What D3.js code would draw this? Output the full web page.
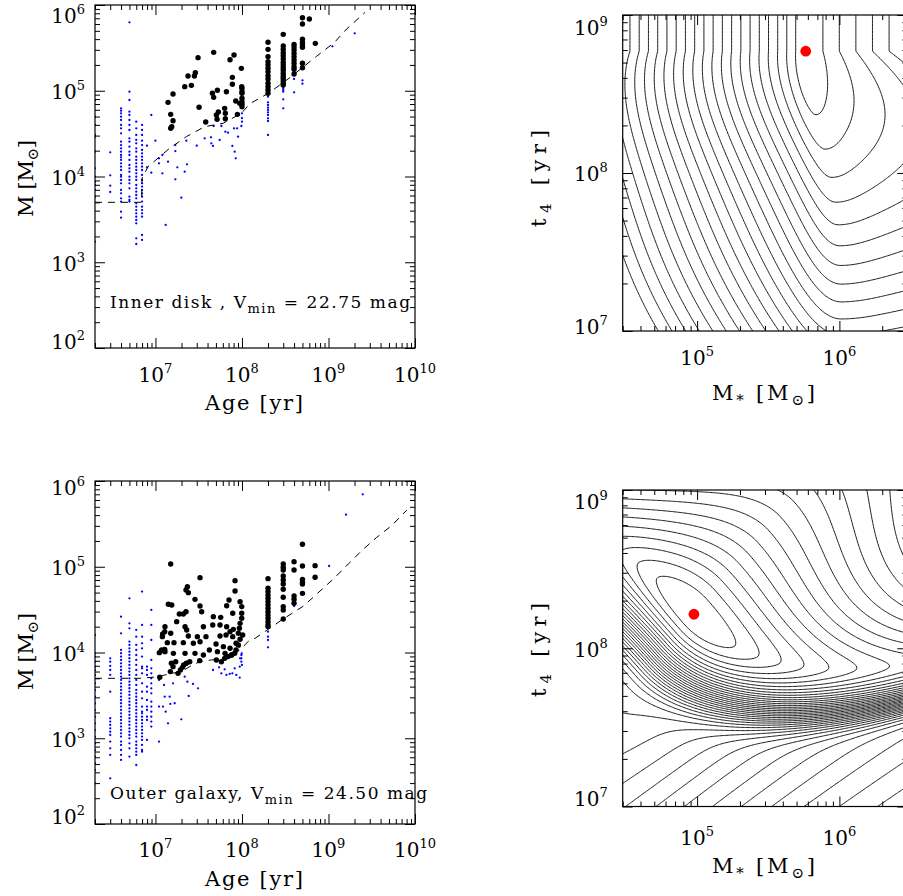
<!DOCTYPE html>
<html><head><meta charset="utf-8">
<script src="https://cdn.jsdelivr.net/npm/d3@7"></script>
<style>
body{margin:0;background:#fff}
svg text{font-family:"DejaVu Serif",serif;fill:#000}
</style>
</head><body>
<svg id="c" width="903" height="896"></svg>
<script>
// ================= DATA (log10 values) =================
const innerBlueAges = [6.301, 6.477, 6.602, 6.699, 6.778, 6.845, 8.301, 8.477, 8.602, 8.699];
const innerBlueCols = [
  [4.89, 4.698, 4.601, 4.484, 4.465, 4.29, 4.095, 3.998, 3.94, 3.901, 3.843, 3.765, 3.24],
  [4.282, 4.014, 3.893, 3.819],
  [4.795,4.768,4.737,4.698,4.659,4.601,4.562,4.503,4.406,4.367,4.328,4.29,4.251,4.224,4.193,4.154,4.115,4.076,4.018,3.998,3.959,3.92,3.843,3.804,3.745,3.707,3.59,3.52],
  [5.798,4.989,4.892,4.756,4.717,4.659,4.601,4.542,4.445,4.406,4.348,4.29,4.251,4.193,4.134,4.095,4.056,3.998,3.959,3.92,3.862,3.765,3.726,3.707],
  [4.639,4.562,4.484,4.426,4.387,4.328,4.29,4.231,4.193,4.154,4.115,4.076,4.037,3.998,3.959,3.901,3.862,3.823,3.784,3.745,3.687,3.648,3.609,3.57,3.532,3.493,3.454,3.279,3.213],
  [4.601,4.542,4.484,4.418,4.367,4.309,4.27,4.231,4.193,4.154,4.115,4.076,4.018,3.959,3.92,3.882,3.843,3.804,3.765,3.707,3.648,3.609,3.57,3.532,3.318,3.26],
  [4.931,4.865,4.834,4.803,4.776,4.748,4.717,4.678,4.647,4.484],
  [5.048,5.028,5.009,4.989,4.9,4.795],
  [5.137,4.982],
  [5.122,5.083]
];
const innerBlueScatter = [
  [6.902,4.36],[6.902,4.107],[6.952,4.717],[6.952,4.045],[6.999,4.418],[7.041,4.212],[7.041,4.154],
  [7.08,4.251],[7.08,4.037],[7.118,3.435],[7.145,4.173],[7.23,4.367],[7.23,4.297],[7.23,3.967],
  [7.253,4.107],[7.299,3.753],[7.338,4.056],[7.357,4.418],[7.365,4.142],[7.477,4.36],[7.569,4.445],
  [7.642,4.457],[7.646,4.387],[7.665,4.356],[7.673,4.589],[7.742,4.426],[7.762,4.589],[7.808,4.523],
  [7.839,4.511],[7.889,4.356],[7.908,4.562],[7.916,4.29],[7.928,4.212],[7.943,4.562],[7.955,4.465],
  [7.993,4.589],[8.0,4.639],[8.0,4.737],[8.0,4.68],[9.045,5.518],[9.303,5.67]
];
const innerBlack = [
  [7.145,4.865],[7.176,4.725],[7.203,4.962],[7.203,4.651],[7.188,4.581],[7.176,4.562],[7.338,5.048],
  [7.376,5.172],[7.415,5.063],[7.45,5.172],[7.461,5.211],[7.492,5.386],[7.504,4.807],[7.581,4.636],
  [7.673,5.448],[7.658,4.97],[7.673,4.923],[7.716,5.005],[7.704,4.717],[7.727,4.752],[7.712,4.667],
  [7.8,4.795],[7.808,4.737],[7.808,4.674],[7.82,4.989],[7.862,5.362],[7.889,5.156],[7.889,5.075],
  [7.908,5.417],[7.928,4.88],[7.947,4.725],[7.993,5.261],[7.997,5.048],[8.0,4.989],[8.0,4.873],
  [8.0,4.842],[8.0,4.814],[7.974,4.853],[8.0,5.028],[8.0,4.97],[8.0,4.912],
  [8.779,5.837],[8.848,5.553]
];
const innerBlackAges = [8.301, 8.477, 8.602, 8.699];
const innerBlackCols = [
  [5.565,5.483,5.398,5.339,5.3,5.261,5.223,5.176,5.137,5.087,5.048,5.009,4.97],
  [5.658,5.522,5.483,5.444,5.409,5.37,5.331,5.3,5.269,5.238,5.203,5.172,5.145,5.114,5.083,5.067],
  [5.541,5.51,5.475,5.436,5.398,5.359,5.32,5.281,5.25,5.195],
  [5.852,5.778,5.6,5.561,5.534,5.506,5.32,5.269]
];
const innerLimit = [
  [6.301,3.699],[6.84,3.699],[6.845,3.98],[6.914,4.115],[7.164,4.329],[7.357,4.465],[7.569,4.581],
  [7.781,4.62],[7.993,4.737],[8.093,4.85],[8.305,4.97],[8.55,5.15],[8.86,5.40],[9.07,5.565],
  [9.21,5.72],[9.423,5.914]
];

const outerBlueAges = [6.301, 6.477, 6.602, 6.699, 6.778, 6.845, 6.902, 6.952, 7.041, 8.301];
const outerBlueCols = [
  [4.204,3.99,3.951,3.893,3.834,3.795,3.737,3.64,3.562,3.484,3.406,3.329,3.251,3.173,3.095,3.017,2.94,2.862,2.784,2.706,2.628,2.473],
  [3.932,3.893,3.843,3.796,3.738,3.543,3.233,3.194,3.155,3.116,3.077,3.038,2.961,2.883,2.805,2.533],
  [4.418,4.224,4.03,3.991,3.952,3.913,3.874,3.835,3.796,3.757,3.718,3.68,3.641,3.602,3.563,3.524,3.485,3.446,3.408,3.369,3.33,3.291,3.252,3.213,3.174,3.136,3.097,3.058,3.019,2.961,2.922,2.863,2.805,2.747],
  [4.632,4.34,4.282,4.127,4.088,4.049,4.01,3.972,3.933,3.894,3.855,3.816,3.777,3.738,3.699,3.66,3.621,3.583,3.544,3.505,3.466,3.427,3.388,3.349,3.311,3.272,3.233,3.194,3.155,3.116,3.077,3.038,2.999,2.941,2.883,2.786],
  [4.263,4.185,4.088,4.03,3.971,3.913,3.855,3.796,3.738,3.68,3.621,3.563,3.524,3.485,3.446,3.408,3.369,3.33,3.291,3.252,3.213,3.174,3.136,3.097,3.058,3.019,2.961,2.922,2.883,2.844,2.805,2.688],
  [4.71,4.321,4.185,4.107,4.049,3.952,3.835,3.816,3.757,3.641,3.543,3.466,3.369,3.31,3.291,3.252,3.213,3.174,3.136,3.097,3.058,3.019,2.98,2.922,2.863,2.844],
  [3.835,3.796,3.738,3.602,3.543,3.446,3.369,3.33,3.252,3.213,2.98],
  [4.496,4.321,4.146,3.913,3.816,3.757,3.699,3.641,3.582,3.524,3.427,3.369,3.31,3.252,3.194,3.136],
  [3.68,3.369,2.961],
  [4.243,4.185,4.146,4.06]
];
const outerBlueScatter = [
  [7.099,3.621],[7.107,3.485],[7.087,3.369],[7.164,3.485],[7.172,3.4],[7.118,3.31],[7.145,3.174],
  [7.203,3.641],[7.222,3.408],[7.299,3.221],[7.338,3.718],[7.369,3.66],[7.384,3.493],[7.434,3.633],
  [7.492,3.582],[7.665,3.796],[7.735,3.827],[7.8,3.804],[7.82,3.738],[7.858,3.75],[7.916,3.816],
  [7.935,3.738],[7.974,3.835],[7.993,3.971],[7.993,3.932],[7.993,3.893],[8.0,3.855],[7.974,3.707],
  [7.889,3.757],[7.762,3.757],[7.97,4.068],[7.997,3.99],[7.978,3.932],
  [8.602,4.542],[9.007,5.009],[9.203,5.607],[9.396,5.845]
];
const outerBlack = [
  [7.176,5.032],[7.515,4.873],[7.369,4.768],[7.353,4.729],[7.38,4.698],[7.457,4.62],[7.149,4.562],
  [7.188,4.554],[7.353,4.476],[7.322,4.449],[7.515,4.543],[7.534,4.476],[7.276,4.449],[7.669,4.418],
  [7.754,4.41],[7.92,4.838],[7.92,4.717],[7.85,4.612],[7.823,4.546],[7.893,4.457],[7.978,4.593],
  [7.997,4.535],[7.997,4.457],[7.997,4.399],[7.978,4.34],[7.11,4.3],[7.083,4.216],[7.176,4.224],
  [7.245,4.36],[7.342,4.3],[7.361,4.263],[7.554,4.3],[7.662,4.321],[7.746,4.321],[7.823,4.3],
  [7.862,4.243],[7.9,4.27],[7.958,4.224],[7.97,4.282],[7.38,4.193],[7.484,4.185],[7.584,4.185],
  [7.515,4.126],[7.438,4.107],[7.322,4.115],[7.214,4.115],[7.137,4.115],[7.746,4.193],[7.816,4.204],
  [7.893,4.185],[7.931,4.107],[7.978,4.154],[8.008,4.204],[7.7,4.099],[7.785,4.068],[7.862,4.049],
  [7.931,4.029],[7.958,4.088],[7.072,4.029],[7.11,4.01],[7.045,3.998],[7.207,3.99],[7.342,3.99],
  [7.457,3.99],[7.554,3.971],[7.623,4.029],[7.716,4.01],[7.804,3.99],[7.881,3.971],
  [7.049,3.711],[7.172,3.777],[7.203,3.835],[7.184,3.874],[7.234,3.893],[7.288,3.796],[7.311,3.827],
  [7.326,3.855],[7.357,3.874],[7.396,3.893],[7.261,3.757],[7.511,3.905],[7.704,3.913],[7.762,3.893],
  [7.8,3.932],[7.839,3.952],[7.877,3.971],[7.916,3.991],[7.068,4.022],[7.107,4.037],[7.08,4.185],
  [7.107,4.243]
];
const outerBlackAges = [8.301, 8.477, 8.602, 8.699, 8.845];
const outerBlackCols = [
  [4.861,4.749,4.71,4.671,4.632,4.593,4.554,4.515,4.476,4.438,4.399,4.36,4.321,4.302],
  [5.032,4.993,4.962,4.892,4.846,4.799,4.737,4.644,4.535,4.496,4.391],
  [5.059,4.962,4.659,4.62,4.574],
  [5.262,5.009,4.853,4.818,4.799,4.69],
  [5.013,4.877]
];
const outerLimit = [
  [6.301,3.699],[6.82,3.699],[7.049,3.719],[7.107,3.738],[7.3,3.78],[7.396,3.835],[7.511,3.893],
  [7.646,3.913],[7.762,3.921],[7.877,3.971],[7.974,4.03],[8.09,4.146],[8.151,4.165],[8.459,4.379],
  [8.71,4.541],[9.057,4.858],[9.23,5.033],[9.384,5.188],[9.558,5.343],[9.731,5.48],[9.904,5.66]
];

const bestInner = [5.8e5, 5.9e8];
const bestOuter = [9.5e4, 1.64e8];

const ageMajor = [1e7, 1e8, 1e9, 1e10];
const massMajor = [1e2, 1e3, 1e4, 1e5, 1e6];
const mstarMajor = [1e5, 1e6];
const t4Major = [1e7, 1e8, 1e9];

// ================= HELPERS =================
const svg = d3.select('#c');
function minorTicks(domain) {
  const out = [];
  const lo = Math.floor(Math.log10(domain[0])), hi = Math.ceil(Math.log10(domain[1]));
  for (let e = lo; e <= hi; e++) for (let m = 2; m <= 9; m++) {
    const v = m * Math.pow(10, e);
    if (v >= domain[0] * 0.999 && v <= domain[1] * 1.001) out.push(v);
  }
  return out;
}
function expOf(v) { return String(Math.round(Math.log10(v))); }

function frameAxes(g, xs, ys, o) {
  const [xL, xR] = xs.range(), [yB, yT] = ys.range();
  const strip = s => s.call(a => a.select('.domain').remove()).call(a => a.selectAll('text').remove());
  const defs = [
    [d3.axisBottom, `translate(0,${yB})`, xs, true],
    [d3.axisTop, `translate(0,${yT})`, xs, true],
    [d3.axisLeft, `translate(${xL},0)`, ys, false],
    [d3.axisRight, `translate(${xR},0)`, ys, false]
  ];
  defs.forEach(([fn, tr, sc, isX]) => {
    const maj = isX ? o.xMaj : o.yMaj;
    g.append('g').attr('transform', tr).call(fn(sc).tickValues(maj).tickSize(-10).tickFormat('')).call(strip);
    g.append('g').attr('transform', tr).call(fn(sc).tickValues(minorTicks(sc.domain())).tickSize(-5).tickFormat('')).call(strip);
  });
  g.selectAll('.tick line').attr('stroke', '#000').attr('stroke-width', 1);
  g.append('rect').attr('x', xL).attr('y', yT).attr('width', xR - xL).attr('height', yB - yT)
    .attr('fill', 'none').attr('stroke', '#000').attr('stroke-width', 1.2);
  o.xMaj.forEach(v => {
    const t = g.append('text').attr('x', xs(v)).attr('y', o.xLabY).attr('text-anchor', 'middle').attr('font-size', 20);
    t.append('tspan').text('10');
    t.append('tspan').attr('dy', -9).attr('font-size', 13).text(expOf(v));
  });
  o.yMaj.forEach((v, i) => {
    let c = ys(v) + 1;
    if (i === o.yMaj.length - 1) c = ys(v) + o.yTopOff;
    if (i === 0) c = ys(v) + o.yBotOff;
    const t = g.append('text').attr('x', xL - o.yLabGap).attr('y', c + 7.3).attr('text-anchor', 'end').attr('font-size', 20);
    t.append('tspan').text('10');
    t.append('tspan').attr('dy', -9).attr('font-size', 13).text(expOf(v));
  });
}
function fitWidth(t, w) {
  const n = t.text().length;
  const cur = t.node().getComputedTextLength();
  t.attr('letter-spacing', ((w - cur) / Math.max(1, n - 1)).toFixed(2));
}
function title(g, x, y, parts, width, rot, size) {
  const t = g.append('text').attr('x', x).attr('y', y).attr('font-size', size || 21);
  if (rot) t.attr('transform', `rotate(-90,${x},${y})`);
  let shift = 0;
  parts.forEach(p => {
    const s = t.append('tspan').text(p.t);
    if (p.sub) { s.attr('dy', 5 - shift).attr('font-size', p.fs || 14); shift = 5; }
    else if (shift) { s.attr('dy', -shift); shift = 0; }
  });
  fitWidth(t, width);
  return t;
}

// ================= SCATTER PANELS =================
function scatterPanel(id, yRange, blueAges, blueCols, blueScatter, blackPts, blackAges, blackCols, limit) {
  const xs = d3.scaleLog().domain([2e6, 1e10]).range([95, 415]);
  const ys = d3.scaleLog().domain([1e2, 1e6]).range(yRange);
  const g = svg.append('g');
  g.append('clipPath').attr('id', id).append('rect')
    .attr('x', 95).attr('y', yRange[1]).attr('width', 320).attr('height', yRange[0] - yRange[1]);
  const pg = g.append('g').attr('clip-path', `url(#${id})`);
  const blue = [];
  blueAges.forEach((a, i) => blueCols[i].forEach(m => blue.push([a, m])));
  blueScatter.forEach(p => blue.push(p));
  const black = blackPts.slice();
  blackAges.forEach((a, i) => blackCols[i].forEach(m => black.push([a, m])));
  pg.selectAll('.b').data(blue).join('circle').attr('class', 'b')
    .attr('cx', d => xs(10 ** d[0])).attr('cy', d => ys(10 ** d[1])).attr('r', 1.15).attr('fill', '#0000ff');
  pg.append('path').datum(limit)
    .attr('d', d3.line().x(d => xs(10 ** d[0])).y(d => ys(10 ** d[1])))
    .attr('fill', 'none').attr('stroke', '#000').attr('stroke-width', 1).attr('stroke-dasharray', '7,6');
  pg.selectAll('.k').data(black).join('circle').attr('class', 'k')
    .attr('cx', d => xs(10 ** d[0])).attr('cy', d => ys(10 ** d[1])).attr('r', 2.7).attr('fill', '#000');
  return {g, xs, ys};
}

const TL = scatterPanel('clipTL', [348, 5], innerBlueAges, innerBlueCols, innerBlueScatter, innerBlack, innerBlackAges, innerBlackCols, innerLimit);
frameAxes(TL.g, TL.xs, TL.ys, {xMaj: ageMajor, yMaj: massMajor, xLabY: 382, yLabGap: 10, yTopOff: 11, yBotOff: -6.5});
title(TL.g, 205, 410, [{t: 'Age [yr]'}], 98);
title(TL.g, 33, 217, [{t: 'M [M'}, {t: '\u2299', sub: true, fs: 15}, {t: ']'}], 77, true);
title(TL.g, 110, 308, [{t: 'Inner disk , V'}, {t: 'min', sub: true, fs: 13}, {t: ' = 22.75 mag'}], 300, false, 17);

const BL = scatterPanel('clipBL', [824, 481], outerBlueAges, outerBlueCols, outerBlueScatter, outerBlack, outerBlackAges, outerBlackCols, outerLimit);
frameAxes(BL.g, BL.xs, BL.ys, {xMaj: ageMajor, yMaj: massMajor, xLabY: 857, yLabGap: 10, yTopOff: 7, yBotOff: -7});
title(BL.g, 205, 886, [{t: 'Age [yr]'}], 98);
title(BL.g, 33, 690, [{t: 'M [M'}, {t: '\u2299', sub: true, fs: 15}, {t: ']'}], 77, true);
title(BL.g, 110, 799, [{t: 'Outer galaxy, V'}, {t: 'min', sub: true, fs: 13}, {t: ' = 24.50 mag'}], 317, false, 17);

// ================= LIKELIHOOD CONTOUR PANELS =================
// smooth surfaces centred on the best-fit points, levels spaced by 1
function fieldInner(u, v) {
  const a = u - Math.log10(bestInner[0]), b = v - Math.log10(bestInner[1]);
  const nb = Math.max(0, -b);
  const m = 0.25 * (1 - Math.exp(-((nb / 0.7) ** 2)));
  const X = a - m;
  const wL = 0.065 + 0.02 * nb, wR = 0.117 + 0.3 * nb;
  const e = 0.03 + 0.2 * nb;
  const G = X * X / ((X < 0 ? wL : wR) * Math.sqrt(X * X + e * e));
  const h = 4.3 * Math.pow(nb, 1.6);
  return G + h;
}
function fieldOuter(u, v) {
  const a = u - Math.log10(bestOuter[0]), b = v - Math.log10(bestOuter[1]);
  const p = (a - b) / Math.SQRT2, q = (a + b) / Math.SQRT2;
  const qq = p > 0 ? q - 0.5 * p * p : q + 0.2 * p * p;
  let G;
  if (qq < 0) {
    const x = -qq;
    G = 22 * (1 - Math.exp(-Math.pow(x / 0.44, 3.2))) + 100 * x * x / (1 + 25 * x * x) + 1.5 * x;
  } else G = 100 * qq * qq / (1 + 5 * qq + 4 * qq * qq);
  const H = 9 * p * p / (1 + 0.6 * p * p);
  return G + H;
}
const innerLevels = d3.range(1, 24);
const outerLevels = d3.range(1, 41);

function contourPanel(id, yRange, field, levels, best) {
  const xs = d3.scaleLog().domain([3e4, 3e6]).range([622.7, 907.3]);
  const ys = d3.scaleLog().domain([1e7, 1e9]).range(yRange);
  const g = svg.append('g');
  g.append('clipPath').attr('id', id).append('rect')
    .attr('x', 622.7).attr('y', yRange[1]).attr('width', 284.6).attr('height', yRange[0] - yRange[1]);
  const nx = 260, ny = 260, uLo = 4.35, uHi = 6.6, vLo = 6.85, vHi = 9.15;
  const vals = new Float64Array(nx * ny);
  for (let j = 0; j < ny; j++) {
    const v = vHi - (vHi - vLo) * j / (ny - 1);
    for (let i = 0; i < nx; i++) vals[j * nx + i] = field(uLo + (uHi - uLo) * i / (nx - 1), v);
  }
  const cs = d3.contours().size([nx, ny]).thresholds(levels)(vals);
  const proj = d3.geoTransform({point(x, y) {
    const u = uLo + (uHi - uLo) * (x - 0.5) / (nx - 1);
    const v = vHi - (vHi - vLo) * (y - 0.5) / (ny - 1);
    this.stream.point(xs(10 ** u), ys(10 ** v));
  }});
  g.append('g').attr('clip-path', `url(#${id})`).selectAll('path').data(cs).join('path')
    .attr('d', d3.geoPath(proj)).attr('fill', 'none').attr('stroke', '#000').attr('stroke-width', 0.9);
  g.append('circle').attr('cx', xs(best[0])).attr('cy', ys(best[1])).attr('r', 5.4).attr('fill', '#ff0000');
  return {g, xs, ys};
}
const TR = contourPanel('clipTR', [331, 15], fieldInner, innerLevels, bestInner);
frameAxes(TR.g, TR.xs, TR.ys, {xMaj: mstarMajor, yMaj: t4Major, xLabY: 365, yLabGap: 15, yTopOff: 13, yBotOff: -4});
title(TR.g, 712, 400, [{t: 'M'}, {t: '*', sub: true, fs: 15}, {t: ' [M'}, {t: '\u2299', sub: true, fs: 15}, {t: ']'}], 103);
title(TR.g, 546, 227, [{t: 't'}, {t: '4', sub: true, fs: 15}, {t: ' [yr]'}], 97, true);

const BR = contourPanel('clipBR', [806.5, 490], fieldOuter, outerLevels, bestOuter);
frameAxes(BR.g, BR.xs, BR.ys, {xMaj: mstarMajor, yMaj: t4Major, xLabY: 845, yLabGap: 15, yTopOff: 11.7, yBotOff: -7.5});
title(BR.g, 712, 873, [{t: 'M'}, {t: '*', sub: true, fs: 15}, {t: ' [M'}, {t: '\u2299', sub: true, fs: 15}, {t: ']'}], 103);
title(BR.g, 546, 697, [{t: 't'}, {t: '4', sub: true, fs: 15}, {t: ' [yr]'}], 94, true);
</script>
</body></html>
